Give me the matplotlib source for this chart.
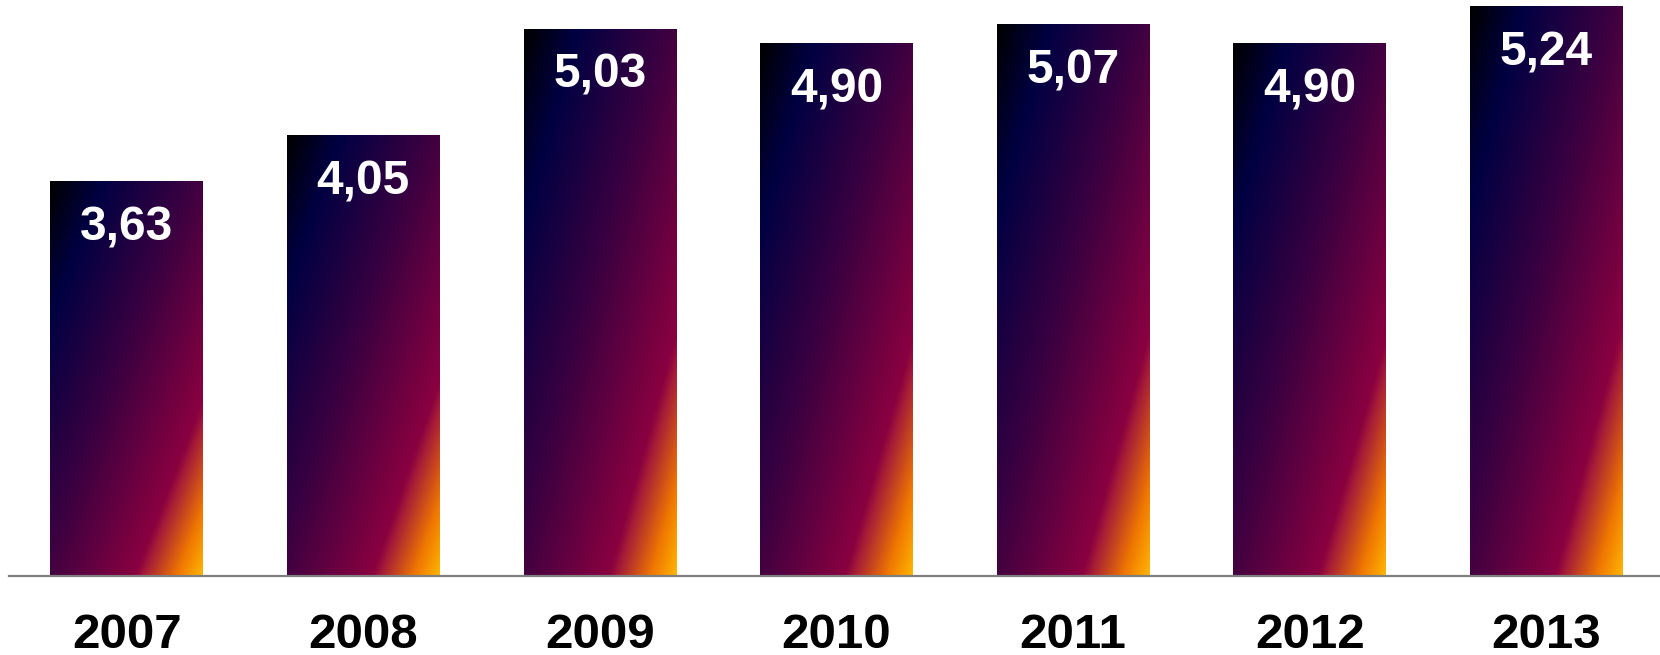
import numpy as np
import matplotlib
matplotlib.use("Agg")
import matplotlib.pyplot as plt
from matplotlib.colors import LinearSegmentedColormap

years = ["2007", "2008", "2009", "2010", "2011", "2012", "2013"]
values = [3.63, 4.05, 5.03, 4.90, 5.07, 4.90, 5.24]
labels = ["3,63", "4,05", "5,03", "4,90", "5,07", "4,90", "5,24"]

plt.rcParams['font.family'] = ['Liberation Sans', 'DejaVu Sans']

fig = plt.figure(figsize=(16.6, 6.55), dpi=100)
ax = fig.add_axes([8.5 / 1660, 79 / 655, 1656 / 1660, 576 / 655])

cmap = LinearSegmentedColormap.from_list("grad", [
    (0.0, "#000000"),
    (0.17, "#000042"),
    (0.47, "#3c0040"),
    (0.78, "#8a0040"),
    (0.81, "#a51c38"),
    (0.92, "#f07800"),
    (1.0, "#ffb400"),
])

width = 0.645
x = np.arange(len(years))
bars = ax.bar(x, values, width=width, color="none", edgecolor="none")

n = 200
u = np.linspace(0, 1, n)
v = np.linspace(0, 1, n)
U, V = np.meshgrid(u, v)
T = (U + V) / 2.0  # row 0 = top of bar

for b, lab in zip(bars, labels):
    x0 = b.get_x()
    x1 = x0 + b.get_width()
    h = b.get_height()
    ax.imshow(T, cmap=cmap, vmin=0, vmax=1, extent=(x0, x1, 0, h),
              origin="upper", aspect="auto", interpolation="bilinear", zorder=2)
    ax.annotate(lab, xy=(x0 + b.get_width() / 2, h), xytext=(0, -17),
                textcoords="offset points", ha="center", va="top",
                color="white", fontsize=34.5, fontweight="bold", zorder=3)

ax.set_xlim(-0.5, 6.5)
ax.set_ylim(0, 5.30)
ax.set_xticks(x)
ax.set_xticklabels(years, fontsize=35.5, fontweight="bold", color="black")
ax.tick_params(axis="x", length=0, pad=27)
ax.set_yticks([])
for s in ["top", "right", "left"]:
    ax.spines[s].set_visible(False)
ax.spines["bottom"].set_color("#7f7f7f")
ax.spines["bottom"].set_linewidth(1.6)
ax.spines["bottom"].set_zorder(4)

fig.savefig("out.png", dpi=100)
